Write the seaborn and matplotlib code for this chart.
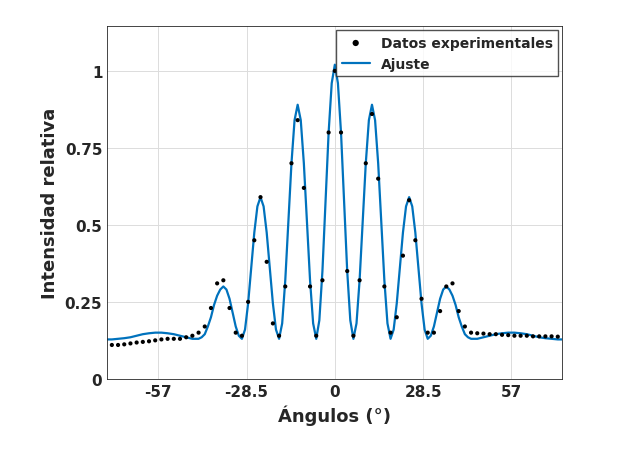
import numpy as np
import matplotlib
matplotlib.use("Agg")
import matplotlib.pyplot as plt
import seaborn as sns

# Experimental data (degrees, relative intensity)
exp_x = list(range(-72, 73, 2))
exp_y = [0.11, 0.11, 0.112, 0.115, 0.118, 0.12, 0.122, 0.125, 0.128, 0.13, 0.13, 0.13,
         0.135, 0.14, 0.15, 0.17, 0.23, 0.31, 0.32, 0.23, 0.15, 0.14, 0.25, 0.45, 0.59,
         0.38, 0.18, 0.14, 0.30, 0.70, 0.84, 0.62, 0.30, 0.14, 0.32, 0.80, 1.00, 0.80,
         0.35, 0.14, 0.32, 0.70, 0.86, 0.65, 0.30, 0.15, 0.20, 0.40, 0.58, 0.45, 0.26,
         0.15, 0.15, 0.22, 0.30, 0.31, 0.22, 0.17, 0.15, 0.148, 0.147, 0.145, 0.145,
         0.143, 0.142, 0.14, 0.14, 0.14, 0.138, 0.138, 0.138, 0.138, 0.137]

# Fit curve, positive half (mirrored)
fit_xp = list(range(0, 45)) + [46, 48, 50, 52, 54, 56, 58, 60, 62, 64, 66, 68, 70, 72, 73.5]
fit_yp = [1.02, 0.96, 0.80, 0.575, 0.35, 0.19, 0.13, 0.18, 0.32, 0.51, 0.70, 0.84, 0.89,
          0.84, 0.70, 0.51, 0.32, 0.18, 0.13, 0.16, 0.245, 0.36, 0.475, 0.56, 0.59,
          0.56, 0.475, 0.36, 0.245, 0.16, 0.13, 0.14, 0.17, 0.215, 0.26, 0.29, 0.30,
          0.29, 0.27, 0.24, 0.20, 0.17, 0.145, 0.135, 0.13,
          0.13, 0.135, 0.14, 0.145, 0.148, 0.15, 0.15, 0.148, 0.145, 0.14, 0.135,
          0.132, 0.13, 0.128, 0.128]
fit_x = [-v for v in fit_xp[:0:-1]] + fit_xp
fit_y = fit_yp[:0:-1] + fit_yp

xticks = [-57, -28.5, 0, 28.5, 57]
xticklabels = ["-57", "-28.5", "0", "28.5", "57"]
yticks = [0, 0.25, 0.5, 0.75, 1]
yticklabels = ["0", "0.25", "0.5", "0.75", "1"]

sns.set_theme(style="white")
plt.rcParams['font.family'] = ['DejaVu Sans']
fig = plt.figure(figsize=(6.27, 4.56), dpi=100)
ax = fig.add_axes([0.171, 0.167, 0.726, 0.774])
sns.scatterplot(x=exp_x, y=exp_y, ax=ax, color="black", s=9, edgecolor="none",
                label="Datos experimentales", zorder=3)
sns.lineplot(x=fit_x, y=fit_y, ax=ax, color="#0072BD", linewidth=1.6,
             label="Ajuste", sort=False, zorder=2)
ax.set_xlim(-73.5, 73.5)
ax.set_ylim(0, 1.146)
ax.set_xticks(xticks)
ax.set_xticklabels(xticklabels)
ax.set_yticks(yticks)
ax.set_yticklabels(yticklabels)
ax.grid(True, color="#dcdcdc", linewidth=0.7)
for s in ax.spines.values():
    s.set_color("#262626"); s.set_linewidth(0.6)
ax.tick_params(labelsize=11, colors="#262626", direction="in", length=4)
for lab in ax.get_xticklabels() + ax.get_yticklabels():
    lab.set_fontweight("bold")
ax.set_xlabel("Ángulos (°)", fontsize=13, fontweight="bold", color="#262626")
ax.set_ylabel("Intensidad relativa", fontsize=13, fontweight="bold", color="#262626")
leg = ax.legend(loc="upper right", fontsize=10, frameon=True, fancybox=False,
                edgecolor="#262626", borderaxespad=0.3, markerscale=1.5)
for t in leg.get_texts():
    t.set_fontweight("bold")
fig.savefig("out.png", dpi=100, facecolor="white")
